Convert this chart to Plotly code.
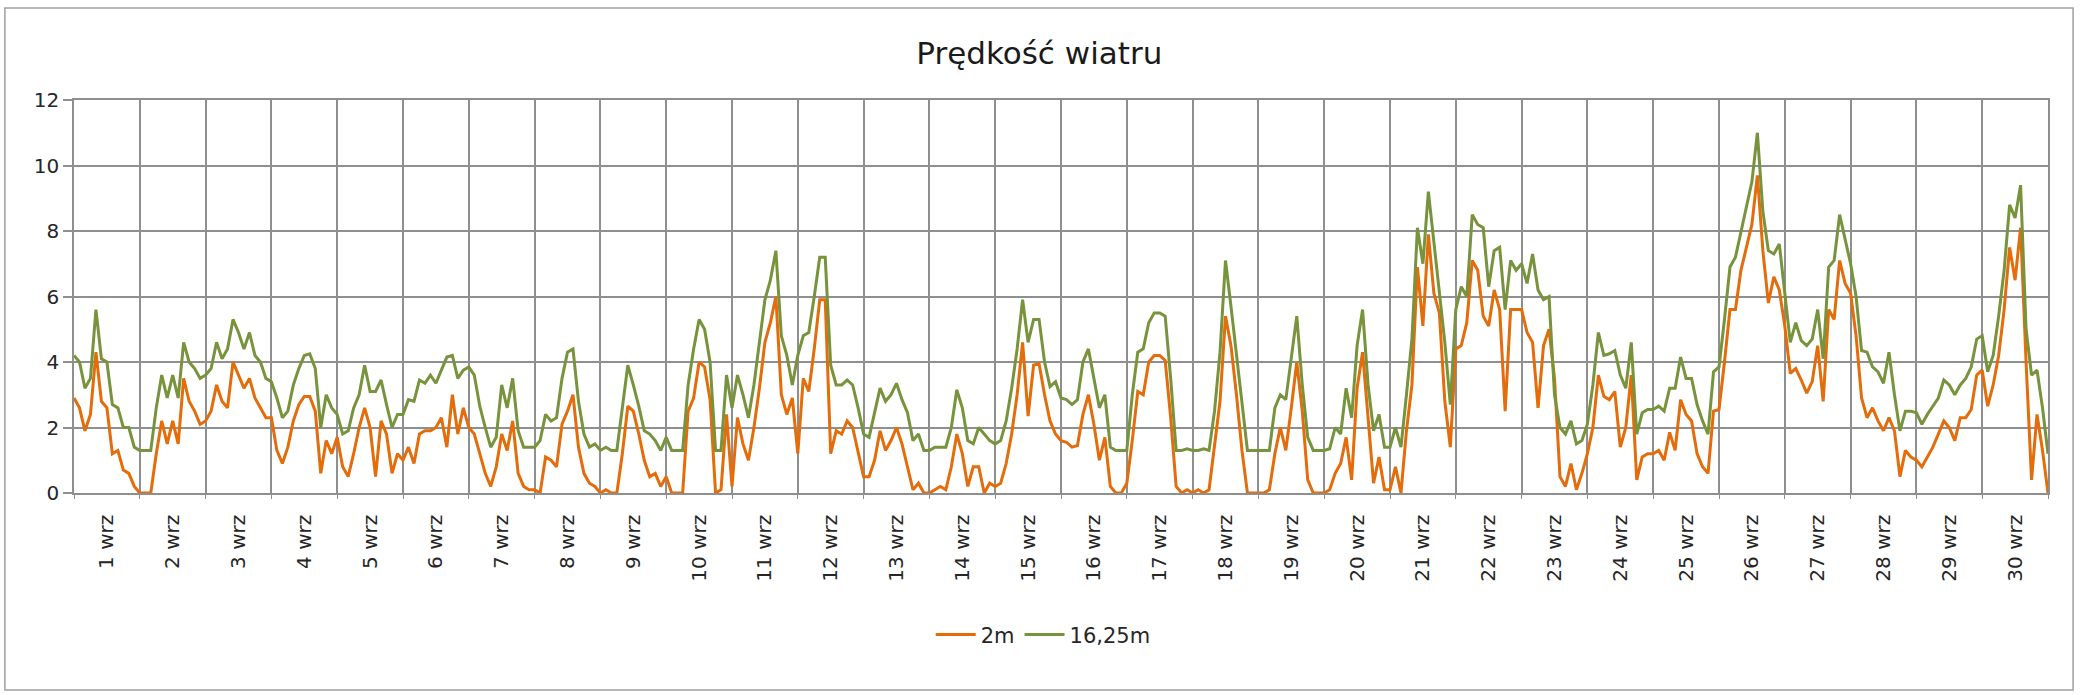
import plotly.graph_objects as go

# Category labels, one per day of September
day_labels = [
    "1 wrz", "2 wrz", "3 wrz", "4 wrz", "5 wrz", "6 wrz", "7 wrz", "8 wrz",
    "9 wrz", "10 wrz", "11 wrz", "12 wrz", "13 wrz", "14 wrz", "15 wrz",
    "16 wrz", "17 wrz", "18 wrz", "19 wrz", "20 wrz", "21 wrz", "22 wrz",
    "23 wrz", "24 wrz", "25 wrz", "26 wrz", "27 wrz", "28 wrz", "29 wrz",
    "30 wrz",
]

STEP_H = 2          # hours between samples
HOURS_PER_DAY = 24

# Wind speed at 2 m [m/s], every 2 hours
wind_2m = [
    2.9, 2.6, 1.9, 2.4, 4.3, 2.8, 2.6, 1.2, 1.3, 0.7, 0.6, 0.2,      # 1
    0.0, 0.0, 0.0, 1.2, 2.2, 1.5, 2.2, 1.5, 3.5, 2.8, 2.5, 2.1,      # 2
    2.2, 2.5, 3.3, 2.8, 2.6, 4.0, 3.6, 3.2, 3.5, 2.9, 2.6, 2.3,      # 3
    2.3, 1.3, 0.9, 1.4, 2.2, 2.7, 2.95, 2.95, 2.5, 0.6, 1.6, 1.2,    # 4
    1.7, 0.8, 0.5, 1.2, 2.0, 2.6, 2.0, 0.5, 2.2, 1.8, 0.6, 1.2,      # 5
    1.0, 1.4, 0.9, 1.8, 1.9, 1.9, 2.0, 2.3, 1.4, 3.0, 1.8, 2.6,      # 6
    2.0, 1.8, 1.2, 0.6, 0.2, 0.8, 1.8, 1.3, 2.2, 0.6, 0.2, 0.1,      # 7
    0.1, 0.0, 1.1, 1.0, 0.8, 2.1, 2.5, 3.0, 1.4, 0.6, 0.3, 0.2,      # 8
    0.0, 0.1, 0.0, 0.0, 1.2, 2.65, 2.5, 1.8, 1.0, 0.5, 0.6, 0.2,     # 9
    0.5, 0.0, 0.0, 0.0, 2.5, 2.9, 4.0, 3.85, 2.85, 0.0, 0.1, 2.4,    # 10
    0.2, 2.3, 1.5, 1.0, 2.0, 3.2, 4.6, 5.2, 6.0, 3.0, 2.4, 2.9,      # 11
    1.2, 3.5, 3.1, 4.4, 5.9, 5.9, 1.2, 1.9, 1.8, 2.2, 2.0, 1.2,      # 12
    0.5, 0.5, 1.0, 1.9, 1.3, 1.6, 2.0, 1.5, 0.8, 0.1, 0.3, 0.0,      # 13
    0.0, 0.1, 0.2, 0.1, 0.8, 1.8, 1.2, 0.2, 0.8, 0.8, 0.0, 0.3,      # 14
    0.2, 0.3, 0.9, 1.8, 3.0, 4.6, 2.35, 3.9, 3.95, 3.0, 2.2, 1.8,    # 15
    1.6, 1.55, 1.4, 1.45, 2.4, 3.0, 2.1, 1.0, 1.7, 0.2, 0.0, 0.0,    # 16
    0.3, 1.6, 3.1, 3.0, 4.0, 4.2, 4.2, 4.05, 2.3, 0.2, 0.0, 0.1,     # 17
    0.0, 0.1, 0.0, 0.1, 1.4, 2.8, 5.4, 4.5, 3.0, 1.3, 0.0, 0.0,      # 18
    0.0, 0.0, 0.1, 1.2, 2.0, 1.3, 2.6, 4.0, 2.5, 0.4, 0.0, 0.0,      # 19
    0.0, 0.1, 0.6, 0.9, 1.7, 0.4, 3.2, 4.3, 2.4, 0.3, 1.1, 0.1,      # 20
    0.1, 0.8, 0.0, 1.9, 3.3, 6.9, 5.1, 7.9, 6.1, 5.5, 2.8, 1.4,      # 21
    4.4, 4.5, 5.2, 7.1, 6.8, 5.4, 5.1, 6.2, 5.6, 2.5, 5.6, 5.6,      # 22
    5.6, 4.9, 4.6, 2.6, 4.5, 5.0, 3.5, 0.5, 0.2, 0.9, 0.1, 0.6,      # 23
    1.2, 2.0, 3.6, 2.95, 2.85, 3.1, 1.4, 2.0, 3.6, 0.4, 1.1, 1.2,    # 24
    1.2, 1.3, 1.0, 1.85, 1.3, 2.85, 2.4, 2.2, 1.2, 0.8, 0.6, 2.5,    # 25
    2.55, 4.0, 5.6, 5.6, 6.8, 7.5, 8.2, 9.7, 7.4, 5.8, 6.6, 6.2,     # 26
    5.1, 3.65, 3.8, 3.45, 3.05, 3.4, 4.5, 2.8, 5.6, 5.3, 7.1, 6.4,   # 27
    6.1, 4.8, 2.9, 2.3, 2.6, 2.2, 1.9, 2.3, 1.9, 0.5, 1.3, 1.1,      # 28
    1.0, 0.8, 1.1, 1.4, 1.8, 2.2, 2.0, 1.6, 2.3, 2.3, 2.55, 3.6,     # 29
    3.75, 2.65, 3.3, 4.2, 5.6, 7.5, 6.5, 8.1, 4.0, 0.4, 2.4, 1.3,    # 30
    0.0,
]

# Wind speed at 16.25 m [m/s], every 2 hours
wind_16m = [
    4.2, 4.0, 3.2, 3.5, 5.6, 4.1, 4.0, 2.7, 2.6, 2.0, 2.0, 1.4,      # 1
    1.3, 1.3, 1.3, 2.6, 3.6, 2.9, 3.6, 2.9, 4.6, 4.0, 3.8, 3.5,      # 2
    3.6, 3.8, 4.6, 4.1, 4.4, 5.3, 4.9, 4.4, 4.9, 4.2, 4.0, 3.5,      # 3
    3.4, 2.9, 2.3, 2.5, 3.3, 3.8, 4.2, 4.25, 3.8, 2.0, 3.0, 2.6,     # 4
    2.4, 1.8, 1.9, 2.6, 3.0, 3.9, 3.1, 3.1, 3.45, 2.7, 2.0, 2.4,     # 5
    2.4, 2.85, 2.8, 3.45, 3.35, 3.6, 3.35, 3.75, 4.15, 4.2, 3.5, 3.75,  # 6
    3.85, 3.6, 2.65, 2.0, 1.4, 1.7, 3.3, 2.6, 3.5, 1.9, 1.4, 1.4,    # 7
    1.4, 1.6, 2.4, 2.2, 2.3, 3.5, 4.3, 4.4, 2.8, 1.8, 1.4, 1.5,      # 8
    1.3, 1.4, 1.3, 1.3, 2.6, 3.9, 3.3, 2.65, 1.9, 1.8, 1.6, 1.3,     # 9
    1.7, 1.3, 1.3, 1.3, 3.3, 4.4, 5.3, 5.0, 4.0, 1.3, 1.3, 3.6,      # 10
    2.6, 3.6, 3.0, 2.3, 3.3, 4.6, 5.9, 6.5, 7.4, 4.8, 4.2, 3.3,      # 11
    4.2, 4.8, 4.9, 6.0, 7.2, 7.2, 3.9, 3.3, 3.3, 3.45, 3.3, 2.6,     # 12
    1.8, 1.7, 2.45, 3.2, 2.8, 3.0, 3.35, 2.85, 2.45, 1.6, 1.8, 1.3,  # 13
    1.3, 1.4, 1.4, 1.4, 2.0, 3.15, 2.6, 1.6, 1.5, 2.0, 1.8, 1.6,     # 14
    1.5, 1.6, 2.2, 3.2, 4.4, 5.9, 4.6, 5.3, 5.3, 4.0, 3.25, 3.4,     # 15
    2.9, 2.85, 2.7, 2.85, 4.0, 4.4, 3.5, 2.6, 3.0, 1.4, 1.3, 1.3,    # 16
    1.3, 3.0, 4.3, 4.4, 5.2, 5.5, 5.5, 5.4, 3.5, 1.3, 1.3, 1.35,     # 17
    1.3, 1.3, 1.35, 1.3, 2.5, 4.3, 7.1, 5.7, 4.2, 2.7, 1.3, 1.3,     # 18
    1.3, 1.3, 1.3, 2.6, 3.0, 2.85, 4.2, 5.4, 3.3, 1.7, 1.3, 1.3,     # 19
    1.3, 1.35, 2.0, 1.8, 3.2, 2.3, 4.5, 5.6, 3.3, 1.9, 2.4, 1.4,     # 20
    1.4, 2.0, 1.4, 3.0, 4.7, 8.1, 7.0, 9.2, 7.6, 6.2, 4.6, 2.7,      # 21
    5.6, 6.3, 6.0, 8.5, 8.2, 8.1, 6.3, 7.4, 7.5, 5.6, 7.1, 6.8,      # 22
    7.0, 6.4, 7.3, 6.2, 5.9, 6.0, 3.0, 2.0, 1.8, 2.2, 1.5, 1.6,      # 23
    2.1, 3.3, 4.9, 4.2, 4.25, 4.35, 3.6, 3.2, 4.6, 1.8, 2.45, 2.55,  # 24
    2.55, 2.65, 2.5, 3.2, 3.2, 4.15, 3.5, 3.5, 2.7, 2.2, 1.8, 3.7,   # 25
    3.85, 5.3, 6.9, 7.2, 8.0, 8.8, 9.5, 11.0, 8.6, 7.4, 7.3, 7.6,    # 26
    6.0, 4.6, 5.2, 4.65, 4.5, 4.7, 5.6, 4.1, 6.9, 7.1, 8.5, 7.7,     # 27
    7.0, 6.0, 4.35, 4.3, 3.85, 3.7, 3.35, 4.3, 3.0, 1.9, 2.5, 2.5,   # 28
    2.45, 2.1, 2.4, 2.65, 2.9, 3.45, 3.3, 3.0, 3.3, 3.5, 3.85, 4.7,  # 29
    4.8, 3.7, 4.2, 5.4, 6.8, 8.8, 8.4, 9.4, 5.0, 3.6, 3.75, 2.6,     # 30
    1.2,
]

hours = [i * STEP_H for i in range(len(wind_2m))]
n_days = len(day_labels)
day_centres = [d * HOURS_PER_DAY + HOURS_PER_DAY / 2 for d in range(n_days)]
day_bounds = [d * HOURS_PER_DAY for d in range(n_days + 1)]

ORANGE = "#E46C0A"
GREEN = "#77933C"
GRID = "#8f8f8f"
FONT = "DejaVu Sans"

fig = go.Figure()
fig.add_trace(go.Scatter(x=hours, y=wind_2m, name="2m", mode="lines",
                         line=dict(color=ORANGE, width=3)))
fig.add_trace(go.Scatter(x=hours, y=wind_16m, name="16,25m", mode="lines",
                         line=dict(color=GREEN, width=3)))

fig.update_layout(
    width=2080, height=695,
    margin=dict(l=74, r=32, t=100, b=202),
    paper_bgcolor="white", plot_bgcolor="white",
    font=dict(family=FONT, size=20, color="#262626"),
    title=dict(text="Prędkość wiatru", x=0.489, xref="paper", xanchor="center",
               y=1 - 53 / 695, yref="container", yanchor="middle",
               font=dict(family=FONT, size=31, color="#1a1a1a")),
    showlegend=True,
    legend=dict(orientation="h", x=0.491, y=-0.361, xanchor="center",
                yanchor="middle", font=dict(size=21), itemwidth=40,
                bgcolor="rgba(0,0,0,0)"),
    shapes=[dict(type="rect", xref="paper", yref="paper",
                 x0=-0.035, x1=1.0127, y0=-0.501, y1=1.234,
                 line=dict(color="#a0a0a0", width=1.5), layer="below")],
)

fig.update_xaxes(
    range=[0, n_days * HOURS_PER_DAY],
    tickmode="array", tickvals=day_centres, ticktext=day_labels,
    tickangle=-90, ticks="", ticklabelstandoff=12,
    tickfont=dict(size=20, color="#262626"),
    showgrid=False, zeroline=False,
    showline=True, linecolor=GRID, linewidth=1.5, mirror=True,
    minor=dict(tickmode="array", tickvals=day_bounds, showgrid=True,
               gridcolor=GRID, gridwidth=1.5, ticks="outside", ticklen=4,
               tickcolor=GRID),
)
fig.update_yaxes(
    range=[0, 12], dtick=2, tick0=0,
    showgrid=True, gridcolor=GRID, gridwidth=1.5, zeroline=False,
    ticks="outside", ticklen=9, tickcolor=GRID, tickwidth=1.5,
    tickfont=dict(size=20, color="#262626"),
    showline=True, linecolor=GRID, linewidth=1.5, mirror=True,
)

fig.write_html("out.html")
